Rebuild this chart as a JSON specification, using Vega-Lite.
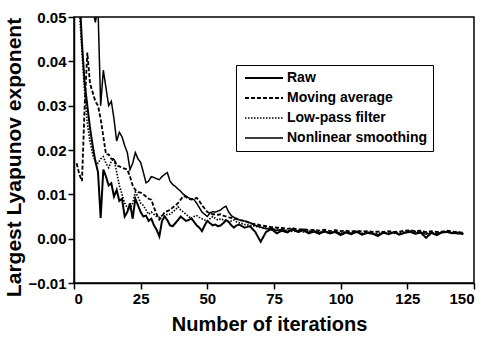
{
  "$schema": "https://vega.github.io/schema/vega-lite/v6.json",
  "width": 400,
  "height": 266,
  "autosize": {"type": "none"},
  "padding": {"left": 74, "top": 17, "right": 12, "bottom": 59},
  "background": "white",
  "config": {
    "font": "Liberation Sans",
    "view": {"stroke": "black", "strokeWidth": 1.5},
    "axis": {
      "grid": false,
      "domainColor": "black",
      "domainWidth": 1.5,
      "tickColor": "black",
      "tickWidth": 1.5,
      "tickSize": 6,
      "labelColor": "black",
      "labelFont": "Liberation Sans",
      "labelFontWeight": "bold",
      "labelFontSize": 15,
      "labelPadding": 2,
      "titleColor": "black",
      "titleFont": "Liberation Sans",
      "titleFontWeight": "bold"
    },
    "legend": {
      "orient": "none",
      "legendX": 162,
      "legendY": 48,
      "strokeColor": "black",
      "fillColor": "white",
      "padding": 6,
      "labelFont": "Liberation Sans",
      "labelFontWeight": "bold",
      "labelFontSize": 14,
      "labelColor": "black",
      "rowPadding": 6,
      "symbolType": "M-4.75,0H4.75",
      "symbolSize": 64,
      "symbolStrokeColor": "black",
      "symbolOffset": 15,
      "labelOffset": 16
    }
  },
  "data": {
    "values": [
      {"x": 1, "Raw": 0.09, "Moving average": 0.017, "Low-pass filter": 0.062, "Nonlinear smoothing": 0.11},
      {"x": 2, "Raw": 0.056, "Moving average": 0.0145, "Low-pass filter": 0.052, "Nonlinear smoothing": 0.1},
      {"x": 3, "Raw": 0.044, "Moving average": 0.013, "Low-pass filter": 0.042, "Nonlinear smoothing": 0.09},
      {"x": 4, "Raw": 0.035, "Moving average": 0.03, "Low-pass filter": 0.033, "Nonlinear smoothing": 0.08},
      {"x": 5, "Raw": 0.03, "Moving average": 0.042, "Low-pass filter": 0.026, "Nonlinear smoothing": 0.07},
      {"x": 6, "Raw": 0.025, "Moving average": 0.035, "Low-pass filter": 0.022, "Nonlinear smoothing": 0.062},
      {"x": 7, "Raw": 0.021, "Moving average": 0.033, "Low-pass filter": 0.019, "Nonlinear smoothing": 0.052},
      {"x": 8, "Raw": 0.0175, "Moving average": 0.031, "Low-pass filter": 0.0175, "Nonlinear smoothing": 0.0488},
      {"x": 9, "Raw": 0.015, "Moving average": 0.03, "Low-pass filter": 0.017, "Nonlinear smoothing": 0.052},
      {"x": 10, "Raw": 0.0047, "Moving average": 0.027, "Low-pass filter": 0.018, "Nonlinear smoothing": 0.03},
      {"x": 11, "Raw": 0.0156, "Moving average": 0.023, "Low-pass filter": 0.0185, "Nonlinear smoothing": 0.038},
      {"x": 12, "Raw": 0.014, "Moving average": 0.019, "Low-pass filter": 0.017, "Nonlinear smoothing": 0.034},
      {"x": 13, "Raw": 0.012, "Moving average": 0.019, "Low-pass filter": 0.016, "Nonlinear smoothing": 0.03},
      {"x": 14, "Raw": 0.0125, "Moving average": 0.018, "Low-pass filter": 0.0175, "Nonlinear smoothing": 0.031},
      {"x": 15, "Raw": 0.0095, "Moving average": 0.018, "Low-pass filter": 0.018, "Nonlinear smoothing": 0.027},
      {"x": 16, "Raw": 0.011, "Moving average": 0.0165, "Low-pass filter": 0.015, "Nonlinear smoothing": 0.022},
      {"x": 17, "Raw": 0.0085, "Moving average": 0.0163, "Low-pass filter": 0.012, "Nonlinear smoothing": 0.024},
      {"x": 18, "Raw": 0.009, "Moving average": 0.016, "Low-pass filter": 0.01, "Nonlinear smoothing": 0.023},
      {"x": 19, "Raw": 0.005, "Moving average": 0.0158, "Low-pass filter": 0.008, "Nonlinear smoothing": 0.021},
      {"x": 20, "Raw": 0.006, "Moving average": 0.0156, "Low-pass filter": 0.007, "Nonlinear smoothing": 0.0194},
      {"x": 21, "Raw": 0.008, "Moving average": 0.014, "Low-pass filter": 0.0065, "Nonlinear smoothing": 0.0156},
      {"x": 22, "Raw": 0.0045, "Moving average": 0.012, "Low-pass filter": 0.008, "Nonlinear smoothing": 0.017},
      {"x": 23, "Raw": 0.009, "Moving average": 0.011, "Low-pass filter": 0.0105, "Nonlinear smoothing": 0.0194},
      {"x": 24, "Raw": 0.0075, "Moving average": 0.0105, "Low-pass filter": 0.0095, "Nonlinear smoothing": 0.018},
      {"x": 25, "Raw": 0.006, "Moving average": 0.0104, "Low-pass filter": 0.008, "Nonlinear smoothing": 0.0172},
      {"x": 26, "Raw": 0.005, "Moving average": 0.01, "Low-pass filter": 0.0075, "Nonlinear smoothing": 0.015},
      {"x": 27, "Raw": 0.0052, "Moving average": 0.0095, "Low-pass filter": 0.0065, "Nonlinear smoothing": 0.0126},
      {"x": 28, "Raw": 0.004, "Moving average": 0.009, "Low-pass filter": 0.0055, "Nonlinear smoothing": 0.013},
      {"x": 29, "Raw": 0.0045, "Moving average": 0.0088, "Low-pass filter": 0.006, "Nonlinear smoothing": 0.014},
      {"x": 30, "Raw": 0.003, "Moving average": 0.007, "Low-pass filter": 0.0055, "Nonlinear smoothing": 0.0138},
      {"x": 31, "Raw": 0.002, "Moving average": 0.0055, "Low-pass filter": 0.005, "Nonlinear smoothing": 0.0135},
      {"x": 32, "Raw": 0.0005, "Moving average": 0.0043, "Low-pass filter": 0.0048, "Nonlinear smoothing": 0.0133},
      {"x": 33, "Raw": 0.004, "Moving average": 0.005, "Low-pass filter": 0.0052, "Nonlinear smoothing": 0.014},
      {"x": 34, "Raw": 0.005, "Moving average": 0.006, "Low-pass filter": 0.005, "Nonlinear smoothing": 0.0145},
      {"x": 35, "Raw": 0.0042, "Moving average": 0.0062, "Low-pass filter": 0.0055, "Nonlinear smoothing": 0.0149},
      {"x": 36, "Raw": 0.003, "Moving average": 0.0065, "Low-pass filter": 0.0055, "Nonlinear smoothing": 0.013},
      {"x": 37, "Raw": 0.0028, "Moving average": 0.007, "Low-pass filter": 0.006, "Nonlinear smoothing": 0.0122},
      {"x": 38, "Raw": 0.0035, "Moving average": 0.0075, "Low-pass filter": 0.0065, "Nonlinear smoothing": 0.0118},
      {"x": 39, "Raw": 0.0042, "Moving average": 0.008, "Low-pass filter": 0.0072, "Nonlinear smoothing": 0.0112},
      {"x": 40, "Raw": 0.005, "Moving average": 0.0088, "Low-pass filter": 0.0065, "Nonlinear smoothing": 0.0107},
      {"x": 41, "Raw": 0.0045, "Moving average": 0.0096, "Low-pass filter": 0.006, "Nonlinear smoothing": 0.01},
      {"x": 42, "Raw": 0.004, "Moving average": 0.0094, "Low-pass filter": 0.0055, "Nonlinear smoothing": 0.0096},
      {"x": 43, "Raw": 0.0042, "Moving average": 0.009, "Low-pass filter": 0.005, "Nonlinear smoothing": 0.0092},
      {"x": 44, "Raw": 0.0046, "Moving average": 0.0088, "Low-pass filter": 0.0045, "Nonlinear smoothing": 0.009},
      {"x": 45, "Raw": 0.0038, "Moving average": 0.009, "Low-pass filter": 0.005, "Nonlinear smoothing": 0.0088},
      {"x": 46, "Raw": 0.003, "Moving average": 0.0092, "Low-pass filter": 0.0052, "Nonlinear smoothing": 0.008},
      {"x": 47, "Raw": 0.0025, "Moving average": 0.0085, "Low-pass filter": 0.0048, "Nonlinear smoothing": 0.007},
      {"x": 48, "Raw": 0.0017, "Moving average": 0.0075, "Low-pass filter": 0.0045, "Nonlinear smoothing": 0.006},
      {"x": 49, "Raw": 0.003, "Moving average": 0.0068, "Low-pass filter": 0.0042, "Nonlinear smoothing": 0.0055},
      {"x": 50, "Raw": 0.004, "Moving average": 0.006, "Low-pass filter": 0.004, "Nonlinear smoothing": 0.005},
      {"x": 51, "Raw": 0.0035, "Moving average": 0.0058, "Low-pass filter": 0.0045, "Nonlinear smoothing": 0.0058},
      {"x": 52, "Raw": 0.003, "Moving average": 0.0055, "Low-pass filter": 0.005, "Nonlinear smoothing": 0.0061},
      {"x": 53, "Raw": 0.0032, "Moving average": 0.0055, "Low-pass filter": 0.0046, "Nonlinear smoothing": 0.006},
      {"x": 54, "Raw": 0.0028, "Moving average": 0.0054, "Low-pass filter": 0.0042, "Nonlinear smoothing": 0.0062},
      {"x": 55, "Raw": 0.003, "Moving average": 0.0055, "Low-pass filter": 0.0045, "Nonlinear smoothing": 0.0065},
      {"x": 56, "Raw": 0.0035, "Moving average": 0.0052, "Low-pass filter": 0.0042, "Nonlinear smoothing": 0.007},
      {"x": 57, "Raw": 0.0042, "Moving average": 0.005, "Low-pass filter": 0.004, "Nonlinear smoothing": 0.0073},
      {"x": 58, "Raw": 0.0038, "Moving average": 0.0048, "Low-pass filter": 0.0038, "Nonlinear smoothing": 0.006},
      {"x": 59, "Raw": 0.003, "Moving average": 0.0047, "Low-pass filter": 0.004, "Nonlinear smoothing": 0.0052},
      {"x": 60, "Raw": 0.0025, "Moving average": 0.0045, "Low-pass filter": 0.0042, "Nonlinear smoothing": 0.0048},
      {"x": 61, "Raw": 0.003, "Moving average": 0.0045, "Low-pass filter": 0.0038, "Nonlinear smoothing": 0.0045},
      {"x": 62, "Raw": 0.0032, "Moving average": 0.0042, "Low-pass filter": 0.0036, "Nonlinear smoothing": 0.0042},
      {"x": 64, "Raw": 0.0025, "Moving average": 0.004, "Low-pass filter": 0.0032, "Nonlinear smoothing": 0.004},
      {"x": 66, "Raw": 0.0028, "Moving average": 0.0035, "Low-pass filter": 0.003, "Nonlinear smoothing": 0.0036},
      {"x": 68, "Raw": 0.0015, "Moving average": 0.0033, "Low-pass filter": 0.0028, "Nonlinear smoothing": 0.003},
      {"x": 70, "Raw": -0.0007, "Moving average": 0.003, "Low-pass filter": 0.0025, "Nonlinear smoothing": 0.0026},
      {"x": 72, "Raw": 0.0015, "Moving average": 0.0028, "Low-pass filter": 0.0024, "Nonlinear smoothing": 0.0022},
      {"x": 74, "Raw": 0.0022, "Moving average": 0.0026, "Low-pass filter": 0.002, "Nonlinear smoothing": 0.0024},
      {"x": 76, "Raw": 0.0012, "Moving average": 0.0025, "Low-pass filter": 0.0022, "Nonlinear smoothing": 0.0018},
      {"x": 78, "Raw": 0.0018, "Moving average": 0.0024, "Low-pass filter": 0.0018, "Nonlinear smoothing": 0.0021},
      {"x": 80, "Raw": 0.0014, "Moving average": 0.0022, "Low-pass filter": 0.0019, "Nonlinear smoothing": 0.0016},
      {"x": 82, "Raw": 0.0022, "Moving average": 0.0024, "Low-pass filter": 0.0016, "Nonlinear smoothing": 0.002},
      {"x": 84, "Raw": 0.0015, "Moving average": 0.002, "Low-pass filter": 0.0018, "Nonlinear smoothing": 0.0017},
      {"x": 86, "Raw": 0.0019, "Moving average": 0.0022, "Low-pass filter": 0.0015, "Nonlinear smoothing": 0.0021},
      {"x": 88, "Raw": 0.0012, "Moving average": 0.0019, "Low-pass filter": 0.0017, "Nonlinear smoothing": 0.0014},
      {"x": 90, "Raw": 0.0016, "Moving average": 0.002, "Low-pass filter": 0.0014, "Nonlinear smoothing": 0.0018},
      {"x": 92, "Raw": 0.0011, "Moving average": 0.0018, "Low-pass filter": 0.0016, "Nonlinear smoothing": 0.0013},
      {"x": 94, "Raw": 0.0017, "Moving average": 0.002, "Low-pass filter": 0.0015, "Nonlinear smoothing": 0.0016},
      {"x": 96, "Raw": 0.0012, "Moving average": 0.0017, "Low-pass filter": 0.0013, "Nonlinear smoothing": 0.0012},
      {"x": 98, "Raw": 0.0015, "Moving average": 0.0019, "Low-pass filter": 0.0016, "Nonlinear smoothing": 0.0017},
      {"x": 100, "Raw": 0.0008, "Moving average": 0.0017, "Low-pass filter": 0.0012, "Nonlinear smoothing": 0.0011},
      {"x": 102, "Raw": 0.0014, "Moving average": 0.0018, "Low-pass filter": 0.0015, "Nonlinear smoothing": 0.0015},
      {"x": 104, "Raw": 0.001, "Moving average": 0.0016, "Low-pass filter": 0.0012, "Nonlinear smoothing": 0.0012},
      {"x": 106, "Raw": 0.0016, "Moving average": 0.0018, "Low-pass filter": 0.0014, "Nonlinear smoothing": 0.0016},
      {"x": 108, "Raw": 0.0009, "Moving average": 0.0016, "Low-pass filter": 0.0012, "Nonlinear smoothing": 0.001},
      {"x": 110, "Raw": 0.0013, "Moving average": 0.0017, "Low-pass filter": 0.0015, "Nonlinear smoothing": 0.0014},
      {"x": 112, "Raw": 0.0011, "Moving average": 0.0015, "Low-pass filter": 0.0011, "Nonlinear smoothing": 0.0012},
      {"x": 114, "Raw": 0.0006, "Moving average": 0.0016, "Low-pass filter": 0.0013, "Nonlinear smoothing": 0.0009},
      {"x": 116, "Raw": 0.0014, "Moving average": 0.0015, "Low-pass filter": 0.0012, "Nonlinear smoothing": 0.0013},
      {"x": 118, "Raw": 0.001, "Moving average": 0.0017, "Low-pass filter": 0.0014, "Nonlinear smoothing": 0.0011},
      {"x": 120, "Raw": 0.0015, "Moving average": 0.0015, "Low-pass filter": 0.0012, "Nonlinear smoothing": 0.0014},
      {"x": 122, "Raw": 0.0009, "Moving average": 0.0016, "Low-pass filter": 0.0013, "Nonlinear smoothing": 0.001},
      {"x": 124, "Raw": 0.0013, "Moving average": 0.0018, "Low-pass filter": 0.0015, "Nonlinear smoothing": 0.0014},
      {"x": 126, "Raw": 0.0016, "Moving average": 0.0019, "Low-pass filter": 0.0014, "Nonlinear smoothing": 0.0017},
      {"x": 128, "Raw": 0.0011, "Moving average": 0.0017, "Low-pass filter": 0.0016, "Nonlinear smoothing": 0.0012},
      {"x": 130, "Raw": 0.0014, "Moving average": 0.0018, "Low-pass filter": 0.0013, "Nonlinear smoothing": 0.0015},
      {"x": 132, "Raw": 0.0002, "Moving average": 0.0015, "Low-pass filter": 0.0012, "Nonlinear smoothing": 0.001},
      {"x": 134, "Raw": 0.0013, "Moving average": 0.0017, "Low-pass filter": 0.0014, "Nonlinear smoothing": 0.0013},
      {"x": 136, "Raw": 0.0008, "Moving average": 0.0015, "Low-pass filter": 0.0011, "Nonlinear smoothing": 0.001},
      {"x": 138, "Raw": 0.0014, "Moving average": 0.0016, "Low-pass filter": 0.0015, "Nonlinear smoothing": 0.0015},
      {"x": 140, "Raw": 0.0015, "Moving average": 0.0018, "Low-pass filter": 0.0016, "Nonlinear smoothing": 0.0016},
      {"x": 142, "Raw": 0.0012, "Moving average": 0.0016, "Low-pass filter": 0.0013, "Nonlinear smoothing": 0.0013},
      {"x": 144, "Raw": 0.0014, "Moving average": 0.0015, "Low-pass filter": 0.0012, "Nonlinear smoothing": 0.0011},
      {"x": 146, "Raw": 0.001, "Moving average": 0.0013, "Low-pass filter": 0.0011, "Nonlinear smoothing": 0.0012}
    ]
  },
  "transform": [
    {"fold": ["Raw", "Moving average", "Low-pass filter", "Nonlinear smoothing"], "as": ["series", "value"]}
  ],
  "mark": {"type": "line", "clip": true, "color": "black"},
  "encoding": {
    "x": {
      "field": "x",
      "type": "quantitative",
      "scale": {"domain": [0, 150], "nice": false},
      "axis": {
        "values": [0, 25, 50, 75, 100, 125, 150],
        "title": "Number of iterations",
        "titleFontSize": 20,
        "titleX": 195,
        "titleY": 47,
        "titleBaseline": "alphabetic",
        "titleAlign": "center"
      }
    },
    "y": {
      "field": "value",
      "type": "quantitative",
      "scale": {"domain": [-0.01, 0.05], "nice": false},
      "axis": {
        "values": [-0.01, 0, 0.01, 0.02, 0.03, 0.04, 0.05],
        "format": ".2f",
        "title": "Largest  Lyapunov exponent",
        "titleFontSize": 21,
        "titleX": -60,
        "titleY": 140,
        "titleAngle": -90,
        "titleBaseline": "middle",
        "titleAlign": "center"
      }
    },
    "strokeDash": {
      "field": "series",
      "type": "nominal",
      "scale": {
        "domain": ["Raw", "Moving average", "Low-pass filter", "Nonlinear smoothing"],
        "range": [[1, 0], [4, 2], [1.5, 1.5], [1, 0]]
      },
      "legend": {"title": null}
    },
    "strokeWidth": {
      "field": "series",
      "type": "nominal",
      "scale": {
        "domain": ["Raw", "Moving average", "Low-pass filter", "Nonlinear smoothing"],
        "range": [2, 1.5, 1.2, 1]
      },
      "legend": {"title": null}
    }
  }
}
